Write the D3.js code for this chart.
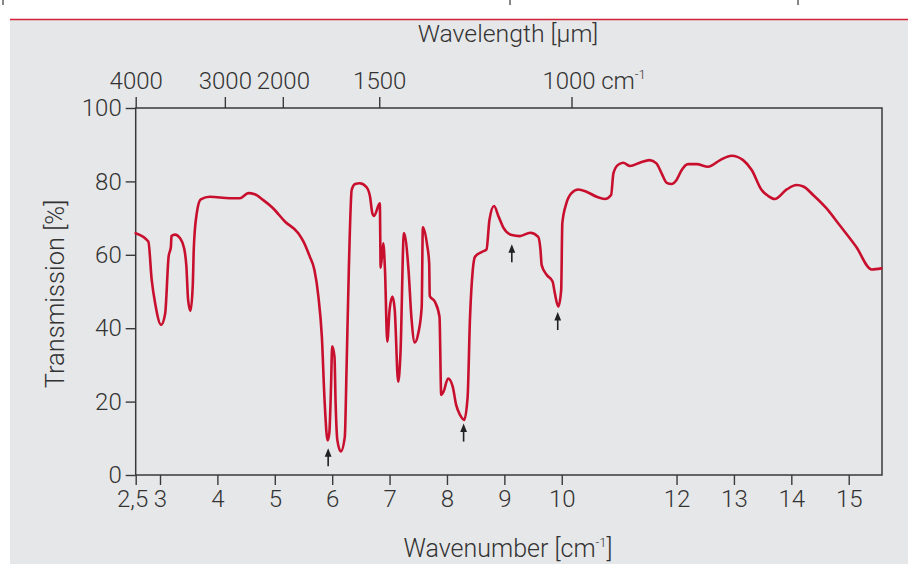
<!DOCTYPE html>
<html>
<head>
<meta charset="utf-8">
<script src="https://cdn.jsdelivr.net/npm/d3@7/dist/d3.min.js"></script>
<style>
  html, body { margin: 0; padding: 0; background: #ffffff; }
  svg { display: block; }
  text { font-family: Roboto, "Liberation Sans", sans-serif; font-weight: 300; fill: #333; }
</style>
</head>
<body>
<svg id="chart" width="908" height="564"></svg>
<script>
// ---- data ----
const wavelength = [2.5, 2.76, 2.83, 2.90, 3.02, 3.09, 3.15, 3.19, 3.20, 3.26, 3.35, 3.42, 3.46, 3.49, 3.53,
  3.57, 3.59, 3.64, 3.71, 3.87, 4.22, 4.39, 4.54, 4.65, 4.80, 4.97, 5.18, 5.41, 5.50, 5.61, 5.69, 5.76,
  5.82, 5.87, 5.92, 5.95, 5.98, 6.00, 6.04, 6.06, 6.09, 6.15, 6.22, 6.25, 6.29, 6.34, 6.40, 6.48, 6.60,
  6.66, 6.70, 6.73, 6.83, 6.845, 6.89, 6.92, 6.96, 7.00, 7.05, 7.09, 7.15, 7.19, 7.25, 7.33, 7.38, 7.44,
  7.50, 7.56, 7.58, 7.65, 7.69, 7.70, 7.79, 7.87, 7.90, 7.94, 8.02, 8.10, 8.16, 8.23, 8.30, 8.36, 8.40,
  8.45, 8.49, 8.61, 8.69, 8.74, 8.82, 8.90, 8.98, 9.13, 9.27, 9.45, 9.59, 9.63, 9.65, 9.74, 9.84, 9.88,
  9.94, 9.99, 10.01, 10.08, 10.17, 10.29, 10.43, 10.61, 10.75, 10.86, 10.90, 10.98, 11.07, 11.19, 11.36,
  11.53, 11.65, 11.74, 11.83, 11.91, 12.00, 12.09, 12.20, 12.35, 12.55, 12.76, 12.96, 13.16, 13.31, 13.48,
  13.60, 13.71, 13.92, 14.09, 14.21, 14.38, 14.61, 14.84, 15.13, 15.40, 15.57];
const transmission = [65.9, 63.6, 53.1, 46.8, 40.9, 44.0, 59.5, 62.2, 65.1, 65.5, 64.5, 61.8, 56.8, 47.7, 44.7,
  51.3, 62.2, 71.3, 75.1, 75.8, 75.4, 75.4, 76.8, 76.5, 74.9, 72.7, 69.0, 65.9, 63.6, 59.5, 55.9, 48.6,
  37.7, 19.5, 9.4, 11.4, 24.1, 35.1, 32.2, 19.5, 9.5, 6.4, 10.4, 28.6, 55.9, 77.7, 79.3, 79.5, 78.4,
  75.8, 71.3, 70.6, 74.0, 56.5, 63.1, 55.9, 36.3, 45.0, 48.6, 45.0, 25.4, 33.2, 65.9, 55.9, 43.1, 36.1,
  38.6, 45.9, 67.5, 63.1, 57.7, 48.8, 47.2, 43.1, 21.8, 22.7, 26.3, 24.1, 19.1, 16.3, 15.0, 21.3, 42.2,
  55.9, 59.5, 60.8, 61.5, 69.5, 73.3, 70.4, 67.5, 65.4, 65.1, 66.0, 64.9, 61.3, 57.2, 54.5, 52.7, 49.5,
  45.9, 50.4, 68.6, 74.0, 76.8, 77.8, 77.2, 75.8, 75.2, 76.3, 82.2, 84.5, 85.1, 84.2, 85.1,
  85.8, 84.9, 82.2, 79.6, 79.3, 80.4, 83.1, 84.7, 84.7, 84.0, 85.8, 87.0, 85.8, 83.1, 77.7,
  76.0, 75.2, 77.8, 79.0, 78.6, 76.3, 72.7, 68.1, 62.2, 56.0, 56.3];

const bottomTicks = [2.5, 3, 4, 5, 6, 7, 8, 9, 10, 12, 13, 14, 15];
const yTicks = [0, 20, 40, 60, 80, 100];
const topTickLabels = ["4000", "3000", "2000", "1500", "1000"];
const topTickAt = [2.5, 4.13, 5.14, 6.82, 10.17];   // positions in bottom-axis units
const arrowAt = [5.93, 8.29, 9.13, 9.93];
const arrowTip = [7.3, 14.0, 62.9, 44.4];

// ---- layout ----
const W = 908, H = 564;
const L = 135.7, R = 882, T = 108, B = 475;
const svg = d3.select("#chart");

svg.append("rect").attr("x", 10).attr("y", 20).attr("width", W - 10).attr("height", H - 20).attr("fill", "#e6e7e9");
svg.append("line").attr("x1", 10).attr("x2", W).attr("y1", 19.5).attr("y2", 19.5)
  .attr("stroke", "#d2233a").attr("stroke-width", 1.5);
// small cropped marks at the very top edge
[3, 510, 798].forEach(mx => {
  svg.append("line").attr("x1", mx).attr("x2", mx).attr("y1", 0).attr("y2", 5)
    .attr("stroke", "#555").attr("stroke-width", 1.4);
});

const x = d3.scaleLinear().domain([2.5, 3, 15.58]).range([L, 160, R]);
const y = d3.scaleLinear().domain([0, 100]).range([B, T]);

const axisColor = "#3a3a3a";
function styleAxis(g) {
  g.selectAll("path.domain").remove();
  g.selectAll(".tick line").attr("stroke", axisColor).attr("stroke-width", 1.4);
  g.selectAll(".tick text").attr("font-size", 24).attr("font-family", "Roboto, 'Liberation Sans', sans-serif")
    .attr("font-weight", 300).attr("fill", "#333");
}

// frame
svg.append("rect").attr("x", L).attr("y", T).attr("width", R - L).attr("height", B - T)
  .attr("fill", "none").attr("stroke", axisColor).attr("stroke-width", 1.5);

// left axis
svg.append("g").attr("transform", `translate(${L},0)`)
  .call(d3.axisLeft(y).tickValues(yTicks).tickSize(10).tickPadding(4).tickSizeOuter(0))
  .call(styleAxis);

// bottom axis
const gBottom = svg.append("g").attr("transform", `translate(0,${B})`)
  .call(d3.axisBottom(x).tickValues(bottomTicks).tickSize(10).tickPadding(5).tickSizeOuter(0)
    .tickFormat(d => String(d).replace(".", ",")))
  .call(styleAxis);
// the first label sits to the left of its tick, as in the original
gBottom.selectAll(".tick").filter(d => d === 2.5).select("text")
  .attr("text-anchor", "end").attr("x", 12);

// top axis (wavenumber, cm-1)
const gTop = svg.append("g").attr("transform", `translate(0,${T})`)
  .call(d3.axisTop(d3.scaleLinear().domain(x.domain()).range(x.range()))
    .tickValues(topTickAt).tickSize(11).tickPadding(8).tickSizeOuter(0)
    .tickFormat((d, i) => topTickLabels[i]))
  .call(styleAxis);
const lastTick = gTop.selectAll(".tick").filter((d, i) => i === topTickLabels.length - 1);
const lastText = lastTick.select("text").attr("x", -3);
const halfW = lastText.node().getComputedTextLength() / 2;
const unit = svg.append("text").attr("x", x(topTickAt[topTickAt.length - 1]) - 3 + halfW + 6).attr("y", T - 19)
  .attr("font-size", 24);
unit.append("tspan").text("cm");
unit.append("tspan").attr("font-size", 13).attr("dy", -10).text("-1");

// axis titles
svg.append("text").attr("x", 508).attr("y", 42).attr("text-anchor", "middle").attr("font-size", 24.8)
  .text("Wavelength [µm]");
const bt = svg.append("text").attr("x", 508).attr("y", 557).attr("text-anchor", "middle").attr("font-size", 25);
bt.append("tspan").text("Wavenumber [cm");
bt.append("tspan").attr("font-size", 13).attr("dy", -10).text("-1");
bt.append("tspan").attr("dy", 10).text("]");

svg.append("text").attr("transform", "translate(64,294) rotate(-90)").attr("text-anchor", "middle")
  .attr("font-size", 25.5).text("Transmission [%]");

// spectrum
const pts = wavelength.map((w, i) => [w, transmission[i]]);
svg.append("path").datum(pts)
  .attr("fill", "none").attr("stroke", "#c8102e").attr("stroke-width", 2.6)
  .attr("stroke-linejoin", "round").attr("stroke-linecap", "round")
  .attr("d", d3.line().x(d => x(d[0])).y(d => y(d[1])).curve(d3.curveMonotoneX));

// arrows
arrowAt.forEach((a, i) => {
  const ax = x(a), ty = y(arrowTip[i]);
  const g = svg.append("g");
  g.append("line").attr("x1", ax).attr("x2", ax).attr("y1", ty + 5).attr("y2", ty + 18)
    .attr("stroke", "#222").attr("stroke-width", 1.6);
  g.append("path").attr("d", `M${ax},${ty} L${ax - 3.4},${ty + 8.5} L${ax + 3.4},${ty + 8.5} Z`).attr("fill", "#222");
});
</script>
</body>
</html>
